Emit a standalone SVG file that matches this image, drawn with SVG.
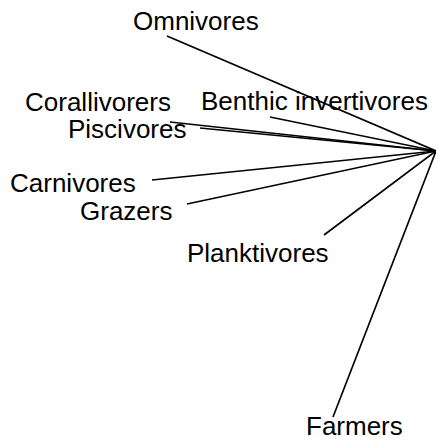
<svg xmlns="http://www.w3.org/2000/svg" width="436" height="445" viewBox="0 0 436 445">
<style>
.l{stroke:#000;stroke-width:1.7;fill:none}
.t{font-family:"Liberation Sans",Arial,sans-serif;font-size:26px;fill:#000}
</style>
<rect width="436" height="445" fill="#fff"/>
<g id="connectors">
<line class="l" x1="436" y1="151" x2="167" y2="36"/>
<line class="l" x1="436" y1="151" x2="270" y2="117"/>
<line class="l" x1="436" y1="151" x2="170" y2="122"/>
<line class="l" x1="436" y1="151" x2="200" y2="128"/>
<line class="l" x1="436" y1="151" x2="152" y2="180"/>
<line class="l" x1="436" y1="151" x2="187" y2="204"/>
<line class="l" x1="436" y1="151" x2="324" y2="235"/>
<line class="l" x1="436" y1="151" x2="333" y2="417"/>
</g>
<g id="omnivores"><text class="t" x="133" y="30">Omnivores</text></g>
<g id="corallivorers"><text class="t" x="25" y="111">Corallivorers</text></g>
<g id="benthic"><text class="t" x="201" y="110">Benthic invertivores</text></g>
<g id="piscivores"><text class="t" x="68" y="138">Piscivores</text></g>
<g id="carnivores"><text class="t" x="10" y="192">Carnivores</text></g>
<g id="grazers"><text class="t" x="80" y="220">Grazers</text></g>
<g id="planktivores"><text class="t" x="187" y="262">Planktivores</text></g>
<g id="farmers"><text class="t" x="306" y="435">Farmers</text></g>
</svg>
